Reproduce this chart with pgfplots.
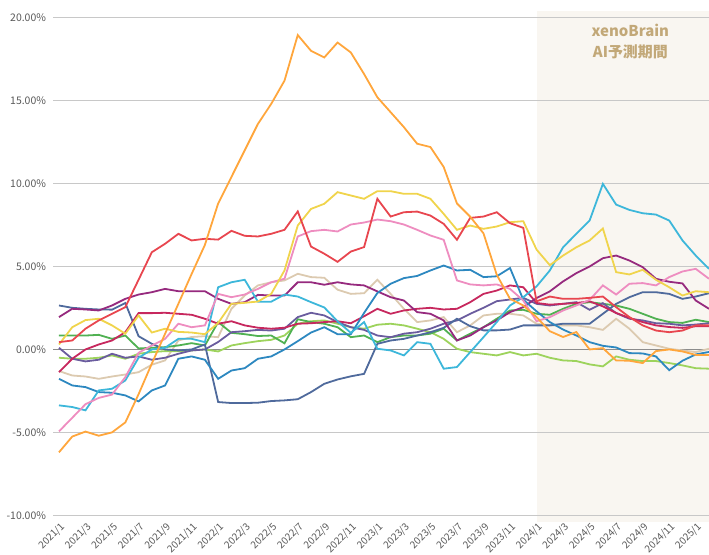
\documentclass[border=0pt]{standalone}
\usepackage{pgfplots}
\usepackage{pgfplotstable}
\pgfplotsset{compat=1.18}
\usepackage{fontspec}
\setmainfont{Noto Sans CJK JP}
\definecolor{cor}{HTML}{FFA63C}
\definecolor{crd}{HTML}{E8464F}
\definecolor{cyl}{HTML}{F0D44C}
\definecolor{cpk}{HTML}{EE8DC0}
\definecolor{ccy}{HTML}{3DB7DA}
\definecolor{ctl}{HTML}{2D88C0}
\definecolor{csl}{HTML}{4F6A9C}
\definecolor{cmg}{HTML}{962A7E}
\definecolor{ccr}{HTML}{C7285E}
\definecolor{cgn}{HTML}{50B152}
\definecolor{clg}{HTML}{9DD35C}
\definecolor{cbg}{HTML}{DCCAB0}
\definecolor{cpg}{HTML}{6A5C9E}
\definecolor{shadec}{HTML}{F9F6F1}
\definecolor{gridc}{HTML}{C8C8C8}
\definecolor{zeroc}{HTML}{8C8C8C}
\definecolor{labc}{HTML}{595959}
\definecolor{tanc}{HTML}{C2A878}

\pgfplotstableread{
m or rd yl pk cy tl sl mg cr gn lg bg pg
0 -6.2 0.44 0.3 -4.94 -3.37 -1.77 2.65 1.95 -1.37 0.84 -0.5 -1.3 0.1
1 -5.25 0.54 1.34 -4.12 -3.47 -2.17 2.51 2.45 -0.56 0.84 -0.56 -1.57 -0.56
2 -4.95 1.25 1.77 -3.3 -3.67 -2.27 2.45 2.41 0.0 0.84 -0.56 -1.63 -0.72
3 -5.2 1.75 1.85 -2.92 -2.47 -2.57 2.41 2.35 0.3 0.88 -0.5 -1.77 -0.62
4 -5.0 2.15 1.45 -2.72 -2.37 -2.61 2.4 2.65 0.54 0.64 -0.36 -1.63 -0.26
5 -4.4 2.55 0.95 -1.67 -1.87 -2.77 2.8 3.05 1.04 0.84 -0.56 -1.51 -0.5
6 -2.7 4.2 2.05 -0.2 -0.5 -3.13 0.8 3.31 2.19 0.06 -0.26 -1.37 -0.42
7 -0.85 5.86 1.02 0.24 0.0 -2.47 0.34 3.45 2.19 0.1 -0.16 -0.92 -0.62
8 0.95 6.37 1.25 0.64 0.1 -2.17 0.0 3.65 2.21 0.14 -0.1 -0.66 -0.5
9 2.75 6.97 1.06 1.55 0.64 -0.56 -0.06 3.51 2.15 0.24 -0.1 0.54 -0.26
10 4.55 6.57 1.02 1.34 0.64 -0.42 0.0 3.51 2.09 0.38 -0.06 0.75 -0.06
11 6.3 6.67 0.92 1.45 0.44 -0.62 0.3 3.51 1.85 0.24 0.0 0.8 0.0
12 8.8 6.62 1.6 3.35 3.75 -1.77 -3.17 3.05 1.55 1.65 -0.12 0.74 0.45
13 10.4 7.15 2.75 3.15 4.05 -1.27 -3.23 2.75 1.7 1.0 0.24 2.45 1.04
14 12.0 6.85 2.81 3.31 4.2 -1.13 -3.23 2.85 1.45 0.92 0.38 3.25 1.1
15 13.6 6.81 2.89 3.65 2.88 -0.56 -3.21 3.29 1.31 0.81 0.5 3.86 1.18
16 14.8 6.97 3.35 4.05 2.88 -0.42 -3.11 3.25 1.25 0.84 0.58 4.05 1.14
17 16.2 7.21 4.76 4.26 3.31 0.0 -3.07 3.25 1.31 0.37 0.84 4.16 1.25
18 18.95 8.32 7.47 6.81 3.19 0.5 -3.0 4.05 1.55 1.82 1.55 4.56 1.95
19 18.0 6.2 8.47 7.13 2.85 1.02 -2.57 4.05 1.58 1.65 1.7 4.36 2.21
20 17.6 5.77 8.78 7.21 2.53 1.34 -2.07 3.9 1.65 1.55 1.75 4.32 2.05
21 18.5 5.28 9.48 7.11 1.7 0.92 -1.81 4.05 1.7 1.34 1.55 3.6 1.65
22 17.9 5.9 9.28 7.53 1.0 0.92 -1.62 3.92 1.58 0.74 1.34 3.35 1.34
23 16.6 6.17 9.08 7.65 1.65 2.2 -1.47 3.86 2.0 0.84 1.25 3.39 1.18
24 15.2 9.08 9.54 7.83 0.04 3.4 0.34 3.5 2.45 0.44 1.49 4.2 0.84
25 14.3 8.01 9.54 7.73 -0.06 3.96 0.54 3.15 2.15 0.74 1.55 3.35 0.74
26 13.4 8.27 9.38 7.53 -0.36 4.3 0.64 2.95 2.35 0.84 1.45 2.45 0.95
27 12.4 8.31 9.38 7.21 0.44 4.43 0.84 2.25 2.45 0.84 1.25 1.65 1.04
28 12.2 8.07 9.08 6.87 0.34 4.76 1.04 2.15 2.51 0.95 1.04 1.75 1.25
29 11.0 7.57 8.17 6.61 -1.16 5.06 1.3 1.75 2.41 1.25 0.64 1.95 1.55
30 8.8 6.61 7.21 4.16 -1.06 4.76 1.85 0.54 2.45 0.54 0.04 1.04 1.75
31 8.0 7.93 7.47 3.92 -0.16 4.8 1.4 0.84 2.85 0.95 -0.16 1.45 2.15
32 7.0 8.01 7.27 3.86 0.74 4.36 1.15 1.34 3.35 1.34 -0.26 2.05 2.51
33 4.5 8.27 7.41 3.92 1.65 4.41 1.15 1.75 3.55 1.85 -0.36 2.15 2.91
34 3.05 7.61 7.67 3.65 2.65 4.91 1.2 2.25 3.86 2.35 -0.16 2.15 3.01
35 2.65 7.33 7.73 2.95 3.15 3.0 1.45 2.55 3.75 2.39 -0.36 2.05 3.11
36 1.95 2.9 6.02 1.7 3.8 2.3 1.45 3.1 2.8 2.15 -0.26 1.55 2.75
37 1.1 3.19 5.08 1.95 4.76 1.65 1.45 3.5 2.7 2.09 -0.5 1.45 2.65
38 0.75 3.05 5.66 2.35 6.16 1.2 1.55 4.1 2.75 2.45 -0.66 1.45 2.75
39 1.05 3.05 6.16 2.65 6.97 0.84 1.55 4.6 2.8 2.75 -0.7 1.45 2.85
40 0.0 3.11 6.57 2.99 7.77 0.44 1.55 5.0 2.9 2.85 -0.9 1.34 2.39
41 0.08 3.19 7.29 3.86 9.98 0.22 2.15 5.5 2.6 2.75 -1.02 1.18 2.79
42 -0.66 2.55 4.66 3.31 8.73 0.12 2.75 5.66 2.2 2.65 -0.42 1.85 2.19
43 -0.68 1.95 4.52 3.96 8.41 -0.22 3.15 5.36 1.9 2.45 -0.62 1.25 1.85
44 -0.82 1.45 4.8 4.0 8.21 -0.24 3.45 4.96 1.65 2.15 -0.7 0.44 1.75
45 -0.1 1.14 4.2 3.86 8.13 -0.42 3.45 4.26 1.45 1.85 -0.7 0.24 1.58
46 0.0 1.04 3.75 4.36 7.77 -1.25 3.35 4.08 1.35 1.65 -0.82 0.04 1.55
47 -0.12 1.14 3.25 4.7 6.57 -0.68 3.05 3.98 1.3 1.6 -0.96 -0.06 1.45
48 -0.33 1.45 3.51 4.86 5.66 -0.3 3.19 2.95 1.4 1.79 -1.13 -0.16 1.5
49 -0.33 1.45 3.45 4.26 4.86 -0.15 3.39 2.45 1.4 1.65 -1.16 0.04 1.58
}\data

\begin{document}
\begin{tikzpicture}
\begin{axis}[
  set layers,
  at={(0,0)}, anchor=south west,
  scale only axis, width=656bp, height=511bp,
  xmin=-0.45, xmax=49, ymin=-10.4, ymax=20.4,
  axis line style={draw=none},
  major tick length=0pt,
  ytick={-10,-5,0,5,10,15,20},
  ymajorgrids,
  grid style={line width=0.9bp, color=gridc},
  xtick={0,2,...,48},
  xticklabels={2021/1,2021/3,2021/5,2021/7,2021/9,2021/11,2022/1,2022/3,2022/5,2022/7,2022/9,2022/11,2023/1,2023/3,2023/5,2023/7,2023/9,2023/11,2024/1,2024/3,2024/5,2024/7,2024/9,2024/11,2025/1},
  /pgf/number format/assume math mode=true,
  yticklabel={\pgfmathprintnumber[fixed,fixed zerofill,precision=2]{\tick}\%},
  yticklabel style={font=\fontsize{10.5}{12}\selectfont, text=labc, xshift=-3.5bp},
  xticklabel style={font=\fontsize{10}{12}\selectfont, text=labc, xshift=5bp, yshift=-2bp, rotate=45, anchor=east, inner sep=1.5bp},
  every axis plot/.append style={line width=1.8bp, no markers},
]
\begin{pgfonlayer}{axis background}
\fill[shadec] (axis cs:36,-10.4) rectangle (axis cs:49,20.4);
\end{pgfonlayer}
\draw[zeroc, line width=1bp] (axis cs:-0.45,0) -- (axis cs:49,0);
\addplot[cbg] table[x=m,y=bg] {\data};
\addplot[clg] table[x=m,y=lg] {\data};
\addplot[cgn] table[x=m,y=gn] {\data};
\addplot[cpg] table[x=m,y=pg] {\data};
\addplot[csl] table[x=m,y=sl] {\data};
\addplot[ccr] table[x=m,y=cr] {\data};
\addplot[cmg] table[x=m,y=mg] {\data};
\addplot[ctl] table[x=m,y=tl] {\data};
\addplot[ccy] table[x=m,y=cy] {\data};
\addplot[cpk] table[x=m,y=pk] {\data};
\addplot[cyl] table[x=m,y=yl] {\data};
\addplot[crd] table[x=m,y=rd] {\data};
\addplot[cor] table[x=m,y=or] {\data};
\node[align=center, text=tanc, font=\bfseries\fontsize{15}{21}\selectfont] at (axis cs:43.07,18.55) {xenoBrain\\AI予測期間};
\end{axis}
\pgfresetboundingbox
\path (-53bp,-33bp) rectangle (656bp,522bp);
\end{tikzpicture}
\end{document}
